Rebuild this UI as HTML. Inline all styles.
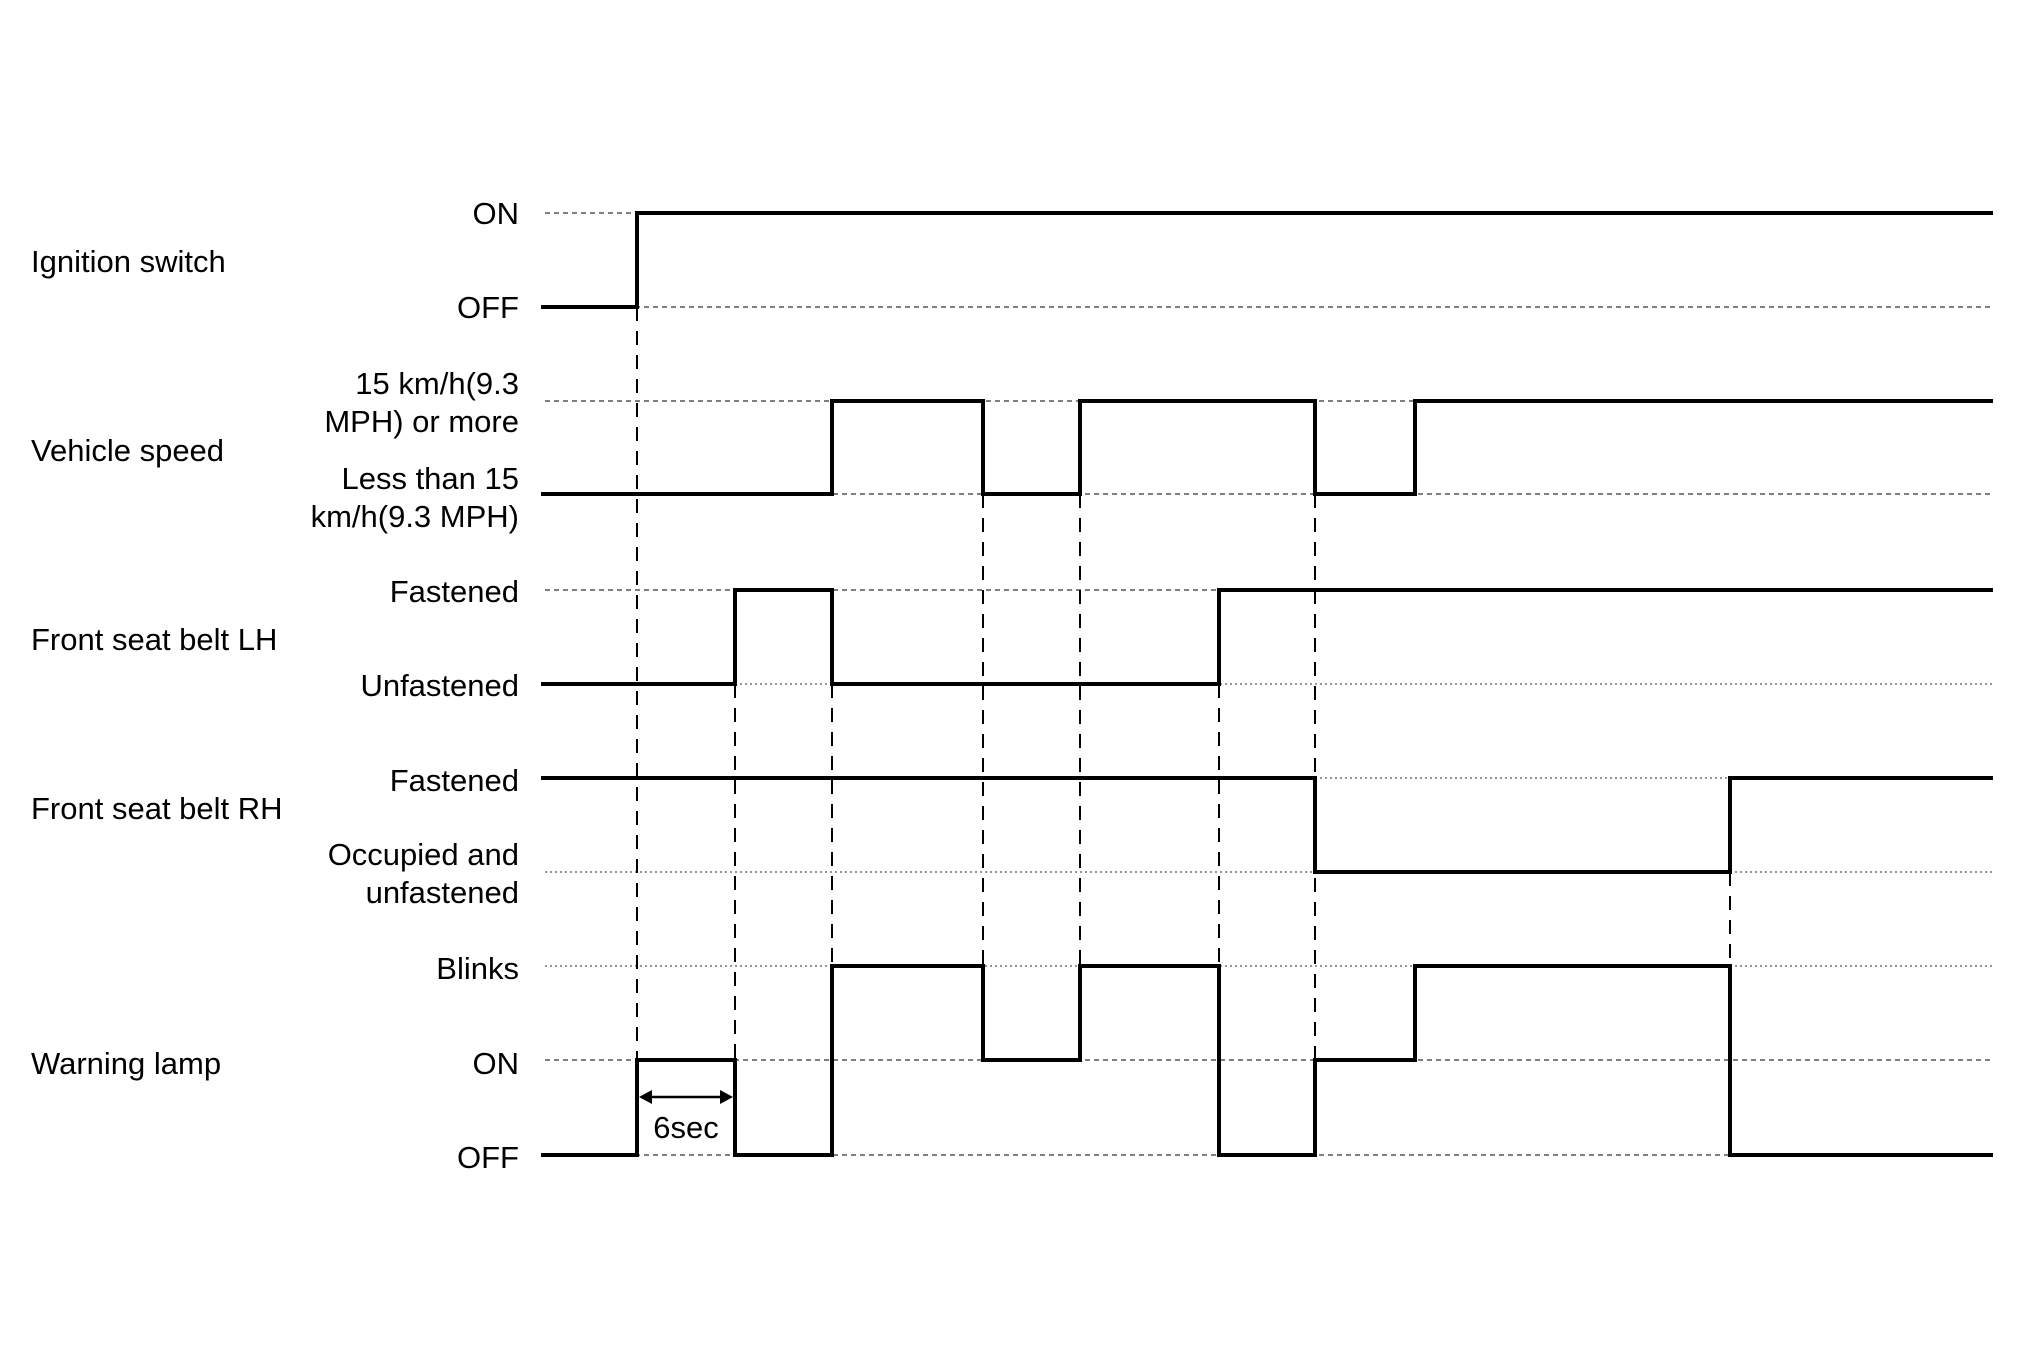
<!DOCTYPE html>
<html><head><meta charset="utf-8"><style>
html,body{margin:0;padding:0;background:#fff;}
svg{display:block;}
text{font-family:"Liberation Sans",Arial,sans-serif;font-size:31px;fill:#000;}
</style></head><body>
<svg width="2020" height="1371" viewBox="0 0 2020 1371" xmlns="http://www.w3.org/2000/svg">
<g stroke="#333" stroke-width="1.3" fill="none">
<g stroke-dasharray="5,4">
<line x1="545" y1="213" x2="1993" y2="213"/>
<line x1="545" y1="307" x2="1993" y2="307"/>
<line x1="545" y1="1060" x2="1993" y2="1060"/>
<line x1="545" y1="1155" x2="1993" y2="1155"/>
<line x1="545" y1="401" x2="1993" y2="401"/>
<line x1="545" y1="494" x2="1993" y2="494"/>
<line x1="545" y1="590" x2="1993" y2="590"/>
</g>
<g stroke-dasharray="2,3" stroke="#555">
<line x1="545" y1="684" x2="1993" y2="684"/>
<line x1="545" y1="778" x2="1993" y2="778"/>
<line x1="545" y1="872" x2="1993" y2="872"/>
<line x1="545" y1="966" x2="1993" y2="966"/>
</g>
</g>
<g stroke="#000" stroke-width="2" stroke-dasharray="14,10" fill="none">
<line x1="637" y1="307" x2="637" y2="1060"/>
<line x1="735" y1="684" x2="735" y2="1060"/>
<line x1="832" y1="684" x2="832" y2="966"/>
<line x1="983" y1="494" x2="983" y2="966"/>
<line x1="1080" y1="494" x2="1080" y2="966"/>
<line x1="1219" y1="684" x2="1219" y2="966"/>
<line x1="1315" y1="494" x2="1315" y2="1060"/>
<line x1="1730" y1="872" x2="1730" y2="966"/>
</g>
<g stroke="#000" stroke-width="4" fill="none" stroke-linejoin="miter">
<path d="M541 307 H637 V213 H1993"/>
<path d="M541 494 H832 V401 H983 V494 H1080 V401 H1315 V494 H1415 V401 H1993"/>
<path d="M541 684 H735 V590 H832 V684 H1219 V590 H1993"/>
<path d="M541 778 H1315 V872 H1730 V778 H1993"/>
<path d="M541 1155 H637 V1060 H735 V1155 H832 V966 H983 V1060 H1080 V966 H1219 V1155 H1315 V1060 H1415 V966 H1730 V1155 H1993"/>
</g>
<line x1="645" y1="1097" x2="727" y2="1097" stroke="#000" stroke-width="2.5"/>
<polygon points="639,1097 652,1090 652,1104" fill="#000"/>
<polygon points="733,1097 720,1090 720,1104" fill="#000"/>
<text x="686" y="1138" text-anchor="middle">6sec</text>
<g>
<text x="31" y="272">Ignition switch</text>
<text x="31" y="461">Vehicle speed</text>
<text x="31" y="650">Front seat belt LH</text>
<text x="31" y="819">Front seat belt RH</text>
<text x="31" y="1074">Warning lamp</text>
</g>
<g text-anchor="end">
<text x="519" y="224">ON</text>
<text x="519" y="318">OFF</text>
<text x="519" y="394">15 km/h(9.3</text>
<text x="519" y="432">MPH) or more</text>
<text x="519" y="489">Less than 15</text>
<text x="519" y="527">km/h(9.3 MPH)</text>
<text x="519" y="602">Fastened</text>
<text x="519" y="696">Unfastened</text>
<text x="519" y="791">Fastened</text>
<text x="519" y="865">Occupied and</text>
<text x="519" y="903">unfastened</text>
<text x="519" y="979">Blinks</text>
<text x="519" y="1074">ON</text>
<text x="519" y="1168">OFF</text>
</g>
</svg>
</body></html>
